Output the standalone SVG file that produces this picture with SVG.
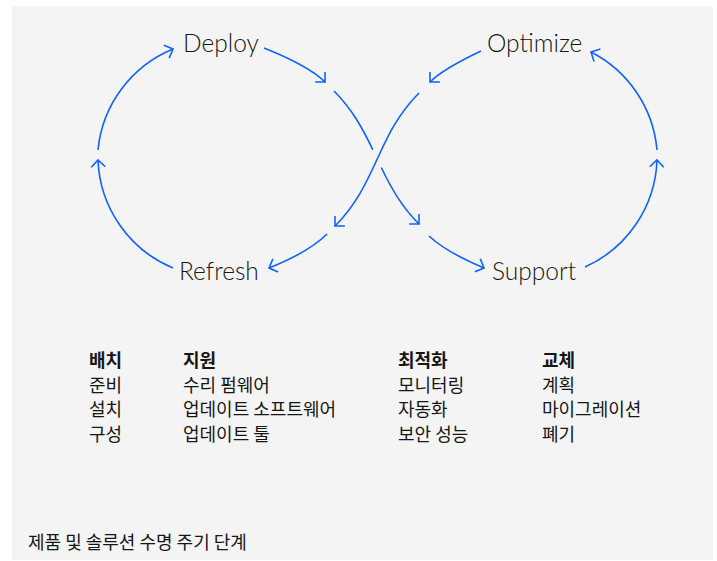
<svg xmlns="http://www.w3.org/2000/svg" width="717" height="561" viewBox="0 0 717 561">
  <defs>
    <style>
      .loop { fill: none; stroke: #0f62fe; stroke-width: 1.6; }
      .phase { font-family: Lato, "Liberation Sans", sans-serif; font-weight: 300; font-size: 24.5px; fill: #161616; }
      .ko { font-family: "Noto Sans CJK KR", "Noto Sans", sans-serif; font-size: 18px; fill: #161616; }
      .ko-head { font-weight: 700; }
    </style>
    <marker id="chevron" markerUnits="userSpaceOnUse" markerWidth="20" markerHeight="20" viewBox="-10 -10 20 20" refX="0" refY="0" orient="auto">
      <path d="M -7 -7 L 0 0 L -7 7" fill="none" stroke="#0f62fe" stroke-width="1.6"/>
    </marker>
  </defs>

  <!-- panel -->
  <rect x="12" y="6" width="701" height="554" fill="#f4f4f4"/>

  <!-- figure-eight lifecycle loop -->
  <g id="connectors">
    <!-- left loop, clockwise -->
    <path class="loop" d="M 98 150 A 122 122 0 0 1 173 49" marker-end="url(#chevron)"/>
    <path class="loop" d="M 264 48 Q 309 66 325 82" marker-end="url(#chevron)"/>
    <!-- passes under the other crossing stroke -->
    <path class="loop" d="M 334 91 C 376 133 377 182 419 224" pathLength="100" stroke-dasharray="44.5 12.5 100" marker-end="url(#chevron)"/>
    <!-- right loop, counter-clockwise -->
    <path class="loop" d="M 429 236 Q 446 252 484 268" marker-end="url(#chevron)"/>
    <path class="loop" d="M 585 267 A 122 122 0 0 0 657 160" marker-end="url(#chevron)"/>
    <path class="loop" d="M 657 150 A 122 122 0 0 0 591 52" marker-end="url(#chevron)"/>
    <path class="loop" d="M 481 51 Q 443 69 430 82" marker-end="url(#chevron)"/>
    <path class="loop" d="M 419 93 C 376.6 135.4 377.4 183.6 335 226" marker-end="url(#chevron)"/>
    <path class="loop" d="M 327 234 Q 309 252 269 268" marker-end="url(#chevron)"/>
    <path class="loop" d="M 173 268 A 122 122 0 0 1 98 160" marker-end="url(#chevron)"/>
  </g>

  <g id="deploy"><text class="phase" x="183" y="52">Deploy</text></g>
  <g id="optimize"><text class="phase" x="487" y="52">Optimize</text></g>
  <g id="refresh"><text class="phase" x="179" y="280">Refresh</text></g>
  <g id="support"><text class="phase" x="492" y="280">Support</text></g>

  <!-- phase task lists -->
  <g id="list-deploy" class="ko">
    <text x="89" y="367" class="ko-head">배치</text>
    <text x="89" y="391.5">준비</text>
    <text x="89" y="416">설치</text>
    <text x="89" y="440.5">구성</text>
  </g>
  <g id="list-support" class="ko">
    <text x="183" y="367" class="ko-head">지원</text>
    <text x="183" y="391.5">수리 펌웨어</text>
    <text x="183" y="416">업데이트 소프트웨어</text>
    <text x="183" y="440.5">업데이트 툴</text>
  </g>
  <g id="list-optimize" class="ko">
    <text x="398" y="367" class="ko-head">최적화</text>
    <text x="398" y="391.5">모니터링</text>
    <text x="398" y="416">자동화</text>
    <text x="398" y="440.5">보안 성능</text>
  </g>
  <g id="list-refresh" class="ko">
    <text x="542" y="367" class="ko-head">교체</text>
    <text x="542" y="391.5">계획</text>
    <text x="542" y="416">마이그레이션</text>
    <text x="542" y="440.5">폐기</text>
  </g>

  <g id="caption"><text class="ko" x="28" y="548.5">제품 및 솔루션 수명 주기 단계</text></g>
</svg>
